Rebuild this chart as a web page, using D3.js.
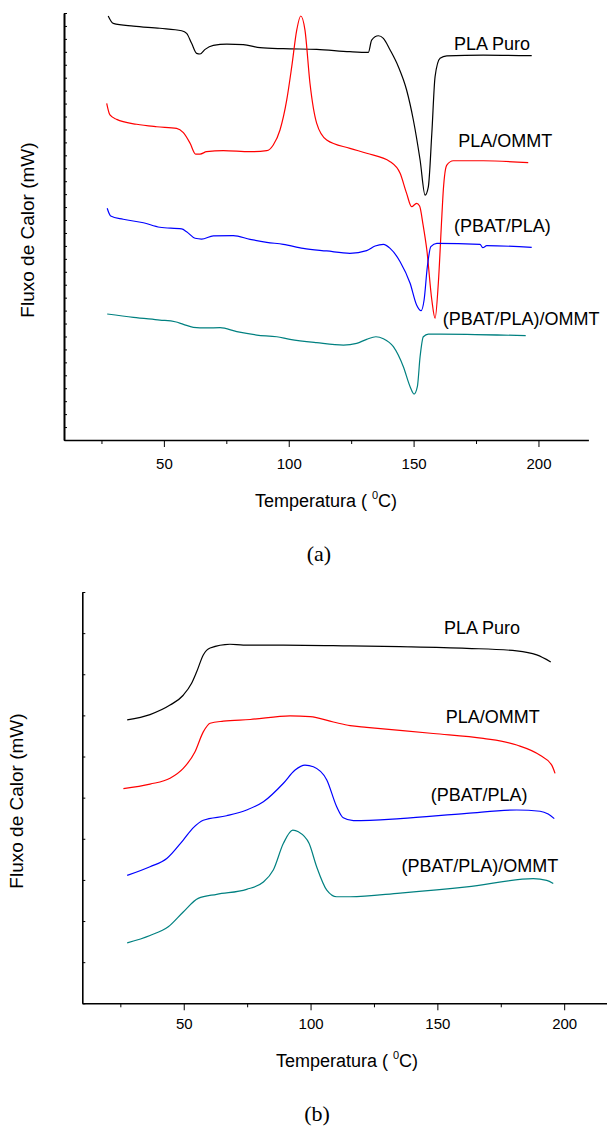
<!DOCTYPE html>
<html>
<head>
<meta charset="utf-8">
<script src="https://cdn.jsdelivr.net/npm/d3@7"></script>
<style>
body { margin: 0; background: #fff; }
svg { display: block; }
</style>
</head>
<body>
<div id="visualization"></div>
<script>
// DSC curves, [temperatura (C), fluxo de calor (u.a.)]
var seriesNames = ["PLA Puro", "PLA/OMMT", "(PBAT/PLA)", "(PBAT/PLA)/OMMT"];
var seriesColors = ["#000000", "#ff0000", "#0000ff", "#008080"];
var majorTicks = [50, 100, 150, 200];
var minorTicks = [25, 75, 125, 175];

// (a)
var puroA = [[27.7,32.77],[29.7,32.20],[37.8,31.99],[48.4,31.82],[57.1,31.63],[59.1,31.43],[61.1,30.66],[63.1,29.88],[64.5,29.83],[66.5,30.19],[69.8,30.50],[75.2,30.60],[81.8,30.55],[88.5,30.32],[97.8,30.24],[111.2,30.19],[124.5,30.01],[131.9,29.96],[133.2,30.91],[135.9,31.24],[137.9,31.04],[140.6,30.14],[143.9,28.85],[147.2,27.05],[149.9,24.73],[152.6,21.64],[154.6,18.93],[155.9,19.57],[157.3,23.70],[158.6,28.08],[160.6,29.50],[163.3,29.68],[177.9,29.75],[197.3,29.70]];
var ommtA = [[27.1,26.02],[28.4,25.12],[31.1,24.78],[39.1,24.40],[47.1,24.21],[55.1,24.09],[57.8,23.75],[60.5,22.93],[62.7,22.10],[64.5,22.10],[67.1,22.28],[73.8,22.36],[84.5,22.28],[91.2,22.36],[93.8,22.80],[96.5,23.96],[99.2,26.28],[101.2,28.85],[103.2,31.68],[104.8,32.77],[106.5,31.68],[108.5,27.57],[111.2,24.47],[115.2,23.18],[124.5,22.54],[131.2,22.16],[140.6,21.51],[144.6,20.61],[147.2,19.06],[149.2,18.03],[151.2,18.29],[152.4,18.08],[153.8,16.62],[155.3,14.68],[157.3,10.82],[158.6,9.41],[159.9,12.11],[161.3,17.26],[161.9,19.32],[163.3,21.25],[165.9,21.58],[177.9,21.58],[195.9,21.43]];
var pbatA = [[27.3,17.91],[28.7,17.31],[33.7,17.06],[41.8,16.79],[48.4,16.44],[57.1,16.31],[59.1,16.10],[62.5,15.59],[65.1,15.53],[69.8,15.77],[77.8,15.79],[84.5,15.51],[91.2,15.28],[97.8,15.12],[105.8,14.81],[115.2,14.61],[124.5,14.43],[131.2,14.63],[134.6,14.99],[137.9,15.12],[140.6,14.81],[144.6,13.78],[148.6,12.11],[151.2,10.43],[153.0,9.99],[154.2,10.82],[155.5,13.39],[156.9,14.94],[159.3,15.20],[176.6,15.12],[177.7,14.86],[179.3,15.02],[197.3,14.89]];
var pbatOmmtA = [[27.3,9.74],[37.8,9.48],[48.4,9.27],[54.5,9.14],[57.8,8.94],[61.8,8.71],[67.1,8.66],[72.5,8.68],[79.2,8.37],[87.2,8.11],[95.2,7.98],[100.5,7.78],[111.2,7.52],[121.9,7.34],[127.2,7.47],[131.2,7.78],[134.9,7.98],[137.9,7.83],[141.9,7.21],[145.9,5.66],[148.6,4.12],[150.2,3.55],[151.5,4.12],[152.6,6.44],[153.9,7.98],[155.9,8.19],[171.3,8.17],[194.9,8.06]];

// (b)
var puroB = [[27.7,6.89],[36.7,7.02],[44.6,7.25],[49.8,7.49],[53.1,7.78],[55.1,8.06],[57.7,8.47],[60.4,8.64],[68.2,8.73],[73.5,8.71],[89.3,8.71],[115.6,8.69],[135.3,8.67],[161.6,8.63],[181.3,8.57],[189.2,8.47],[194.7,8.30]];
var ommtB = [[26.2,5.22],[36.7,5.33],[44.6,5.47],[49.8,5.71],[54.4,6.11],[57.7,6.60],[60.4,6.81],[65.6,6.86],[76.2,6.90],[91.9,6.99],[99.8,6.97],[109.0,6.84],[115.6,6.75],[122.1,6.71],[148.4,6.56],[168.1,6.44],[181.3,6.28],[190.5,6.03],[195.1,5.79],[196.4,5.59]];
var pbatB = [[27.7,3.11],[36.7,3.32],[43.3,3.52],[49.8,3.97],[53.8,4.27],[57.7,4.45],[66.9,4.56],[74.8,4.70],[81.4,4.90],[89.3,5.35],[93.9,5.67],[97.8,5.79],[101.1,5.75],[106.4,5.43],[110.3,4.78],[112.9,4.51],[116.9,4.44],[135.3,4.49],[161.6,4.62],[181.3,4.70],[190.5,4.67],[193.7,4.60],[196.1,4.49]];
var pbatOmmtB = [[27.7,1.47],[36.7,1.65],[43.9,1.86],[49.8,2.22],[55.7,2.55],[63.0,2.65],[74.8,2.77],[81.4,2.95],[85.3,3.24],[89.3,3.89],[93.0,4.21],[95.2,4.17],[99.4,3.89],[102.4,3.32],[106.4,2.75],[110.3,2.59],[115.6,2.59],[135.3,2.68],[161.6,2.83],[187.8,3.03],[193.1,2.99],[195.7,2.91]];

// label anchors [temperatura, fluxo] for each curve name
var labelPosA = [[166.2,30.14],[167.9,22.67],[166.2,16.10],[161.7,8.89]];
var labelPosB = [[152.6,8.97],[153.3,6.81],[147.4,4.92],[135.9,3.19]];

var svg = d3.select("#visualization").append("svg")
	.attr("width", 607)
	.attr("height", 1126);

function drawPanel(p) {
	var x = d3.scaleLinear().domain([10, 220]).range([p.left, p.right]);
	var y = d3.scaleLinear().domain([0, p.yMax]).range([p.bottom, p.top]);
	var g = svg.append("g");

	// minor x ticks
	g.append("g")
		.attr("transform", "translate(0," + p.bottom + ")")
		.call(d3.axisBottom(x).tickValues(minorTicks).tickSize(4).tickSizeOuter(0).tickFormat(""))
		.call(function(s) { s.select(".domain").remove(); });

	// major x ticks + labels
	var xa = g.append("g")
		.attr("transform", "translate(0," + p.bottom + ")")
		.call(d3.axisBottom(x).tickValues(majorTicks).tickSize(7).tickSizeOuter(0).tickPadding(p.tickPad).tickFormat(d3.format("d")));
	xa.select(".domain").attr("stroke-width", 1.6);
	xa.selectAll("text").attr("font-family", "Liberation Sans, Arial, sans-serif").attr("font-size", 15).attr("fill", "#000");

	// y axis, ticks pointing inward, no labels
	var ya = g.append("g")
		.attr("transform", "translate(" + p.left + ",0)")
		.call(d3.axisRight(y).tickValues(d3.range(0, p.yMax + 1)).tickSize(3).tickSizeOuter(0).tickFormat(""));
	ya.select(".domain").attr("stroke-width", p.yStroke);

	var line = d3.line()
		.x(function(d) { return x(d[0]); })
		.y(function(d) { return y(d[1]); })
		.curve(d3.curveMonotoneX);

	p.series.forEach(function(s, i) {
		g.append("path")
			.datum(s)
			.attr("d", line)
			.attr("fill", "none")
			.attr("stroke", seriesColors[i])
			.attr("stroke-width", 1.2);
	});

	p.labels.forEach(function(l, i) {
		g.append("text")
			.attr("x", x(l[0]))
			.attr("y", y(l[1]))
			.attr("font-family", "Liberation Sans, Arial, sans-serif")
			.attr("font-size", 18)
			.text(seriesNames[i]);
	});

	// axis titles
	var xt = g.append("text")
		.attr("x", p.xTitle[0])
		.attr("y", p.xTitle[1])
		.attr("text-anchor", "middle")
		.attr("font-family", "Liberation Sans, Arial, sans-serif")
		.attr("font-size", 18);
	xt.append("tspan").text("Temperatura ( ");
	xt.append("tspan").attr("font-size", 11).attr("dy", -8).text("0");
	xt.append("tspan").attr("dy", 8).text("C)");

	g.append("text")
		.attr("transform", "translate(" + p.yTitle[0] + "," + p.yTitle[1] + ") rotate(-90)")
		.attr("text-anchor", "middle")
		.attr("dy", "0.35em")
		.attr("font-family", "Liberation Sans, Arial, sans-serif")
		.attr("font-size", 19)
		.text("Fluxo de Calor (mW)");

	g.append("text")
		.attr("x", p.caption[0])
		.attr("y", p.caption[1])
		.attr("text-anchor", "middle")
		.attr("font-family", "Liberation Serif, Times New Roman, serif")
		.attr("font-size", 22)
		.text(p.captionText);
}

drawPanel({
	left: 64, right: 588.4, top: 13, bottom: 440, yMax: 33, yStroke: 2, tickPad: 11,
	series: [puroA, ommtA, pbatA, pbatOmmtA], labels: labelPosA,
	xTitle: [326, 507], yTitle: [27, 230], caption: [319, 561], captionText: "(a)"
});

drawPanel({
	left: 82.3, right: 614.9, top: 592, bottom: 1003.3, yMax: 10, yStroke: 1.6, tickPad: 8,
	series: [puroB, ommtB, pbatB, pbatOmmtB], labels: labelPosB,
	xTitle: [347, 1067], yTitle: [16, 801], caption: [317, 1121], captionText: "(b)"
});
</script>
</body>
</html>
